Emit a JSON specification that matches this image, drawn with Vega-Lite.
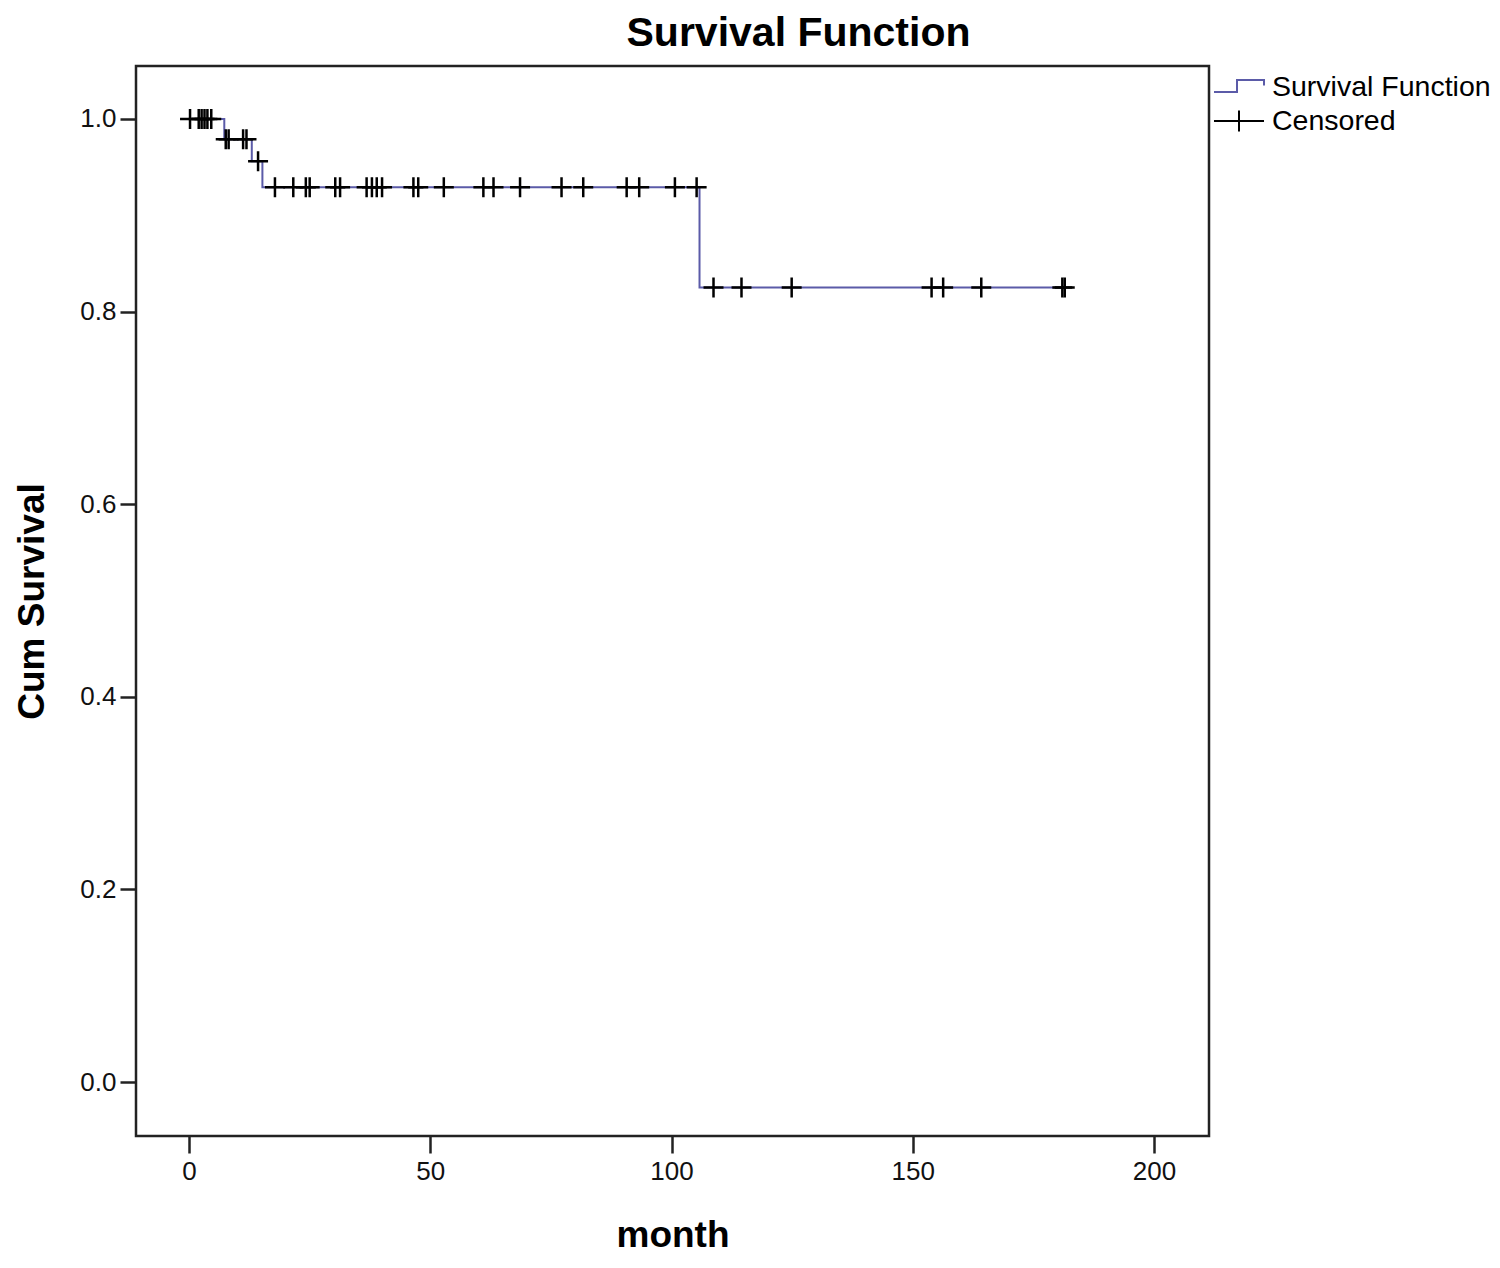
{
  "$schema": "https://vega.github.io/schema/vega-lite/v6.json",
  "autosize": "none",
  "width": 1073,
  "height": 1070,
  "padding": {"left": 136, "top": 66, "right": 291, "bottom": 132},
  "background": "white",
  "title": {
    "text": "Survival Function",
    "font": "Liberation Sans",
    "fontSize": 41,
    "fontWeight": "bold",
    "color": "#000000",
    "anchor": "middle",
    "frame": "group",
    "dx": 126,
    "offset": 11
  },
  "config": {
    "view": {"stroke": "#222222", "strokeWidth": 2.5},
    "axis": {
      "domain": false,
      "grid": false,
      "labelFont": "Liberation Sans",
      "titleFont": "Liberation Sans",
      "labelColor": "#111111",
      "titleColor": "#000000",
      "tickColor": "#222222",
      "tickWidth": 2.5
    }
  },
  "data": {
    "values": [
      {"month": 0, "surv": 1.0, "kind": "step"},
      {"month": 7.3, "surv": 0.979, "kind": "step"},
      {"month": 13.0, "surv": 0.956, "kind": "step"},
      {"month": 15.2, "surv": 0.929, "kind": "step"},
      {"month": 105.8, "surv": 0.825, "kind": "step"},
      {"month": 181.3, "surv": 0.825, "kind": "step"},
      {"month": 0.2, "surv": 1.0, "kind": "censored"},
      {"month": 2.0, "surv": 1.0, "kind": "censored"},
      {"month": 2.6, "surv": 1.0, "kind": "censored"},
      {"month": 3.2, "surv": 1.0, "kind": "censored"},
      {"month": 3.8, "surv": 1.0, "kind": "censored"},
      {"month": 4.6, "surv": 1.0, "kind": "censored"},
      {"month": 7.6, "surv": 0.979, "kind": "censored"},
      {"month": 8.2, "surv": 0.979, "kind": "censored"},
      {"month": 11.2, "surv": 0.979, "kind": "censored"},
      {"month": 11.9, "surv": 0.979, "kind": "censored"},
      {"month": 14.3, "surv": 0.956, "kind": "censored"},
      {"month": 17.8, "surv": 0.929, "kind": "censored"},
      {"month": 21.6, "surv": 0.929, "kind": "censored"},
      {"month": 24.2, "surv": 0.929, "kind": "censored"},
      {"month": 25.0, "surv": 0.929, "kind": "censored"},
      {"month": 30.3, "surv": 0.929, "kind": "censored"},
      {"month": 31.3, "surv": 0.929, "kind": "censored"},
      {"month": 36.8, "surv": 0.929, "kind": "censored"},
      {"month": 37.9, "surv": 0.929, "kind": "censored"},
      {"month": 38.9, "surv": 0.929, "kind": "censored"},
      {"month": 40.0, "surv": 0.929, "kind": "censored"},
      {"month": 46.5, "surv": 0.929, "kind": "censored"},
      {"month": 47.5, "surv": 0.929, "kind": "censored"},
      {"month": 52.8, "surv": 0.929, "kind": "censored"},
      {"month": 61.0, "surv": 0.929, "kind": "censored"},
      {"month": 63.1, "surv": 0.929, "kind": "censored"},
      {"month": 68.6, "surv": 0.929, "kind": "censored"},
      {"month": 77.2, "surv": 0.929, "kind": "censored"},
      {"month": 81.7, "surv": 0.929, "kind": "censored"},
      {"month": 90.7, "surv": 0.929, "kind": "censored"},
      {"month": 93.3, "surv": 0.929, "kind": "censored"},
      {"month": 100.7, "surv": 0.929, "kind": "censored"},
      {"month": 105.2, "surv": 0.929, "kind": "censored"},
      {"month": 108.7, "surv": 0.825, "kind": "censored"},
      {"month": 114.5, "surv": 0.825, "kind": "censored"},
      {"month": 124.9, "surv": 0.825, "kind": "censored"},
      {"month": 153.9, "surv": 0.825, "kind": "censored"},
      {"month": 156.3, "surv": 0.825, "kind": "censored"},
      {"month": 164.2, "surv": 0.825, "kind": "censored"},
      {"month": 181.0, "surv": 0.825, "kind": "censored"},
      {"month": 181.5, "surv": 0.825, "kind": "censored"}
    ]
  },
  "encoding": {
    "x": {
      "field": "month",
      "type": "quantitative",
      "scale": {"domain": [-11, 211.4], "nice": false, "zero": false},
      "axis": {
        "values": [0, 50, 100, 150, 200],
        "title": "month",
        "labelFontSize": 26,
        "titleFontSize": 37,
        "titleFontWeight": "bold",
        "tickSize": 17,
        "labelPadding": 5,
        "titlePadding": 33
      }
    },
    "y": {
      "field": "surv",
      "type": "quantitative",
      "scale": {"domain": [-0.056, 1.055], "nice": false, "zero": false},
      "axis": {
        "values": [0, 0.2, 0.4, 0.6, 0.8, 1.0],
        "format": ".1f",
        "title": "Cum Survival",
        "labelFontSize": 26,
        "titleFontSize": 37,
        "titleFontWeight": "bold",
        "tickSize": 16,
        "labelPadding": 4,
        "titlePadding": 28
      }
    }
  },
  "layer": [
    {
      "transform": [{"filter": "datum.kind === 'step'"}],
      "mark": {"type": "line", "interpolate": "step-after", "strokeWidth": 2},
      "encoding": {
        "color": {
          "datum": "Survival Function",
          "type": "nominal",
          "scale": {"domain": ["Survival Function", "Censored"], "range": ["#5b5ba8", "#000000"]},
          "legend": {
            "title": null,
            "orient": "none",
            "legendX": 1087,
            "legendY": 5,
            "labelFont": "Liberation Sans",
            "labelFontSize": 28.5,
            "labelColor": "#000000",
            "labelLimit": 400,
            "labelOffset": 17,
            "rowPadding": 3,
            "padding": 0,
            "symbolSize": 900,
            "symbolStrokeWidth": 2,
            "symbolFillColor": "transparent",
            "encode": {
              "symbols": {
                "update": {
                  "shape": {"signal": "datum.value === 'Censored' ? 'M-1.667,0H1.667M0,-0.7V0.7' : 'M-1.667,0.333H-0.133V-0.467H1.667V-0.1'"},
                  "fill": {"value": "transparent"}
                }
              }
            }
          }
        }
      }
    },
    {
      "transform": [{"filter": "datum.kind === 'censored'"}],
      "mark": {
        "type": "point",
        "shape": "M-1,0H1M0,-1V1",
        "filled": false,
        "size": 400,
        "strokeWidth": 2.5,
        "opacity": 1
      },
      "encoding": {
        "color": {"datum": "Censored", "type": "nominal"}
      }
    }
  ]
}
